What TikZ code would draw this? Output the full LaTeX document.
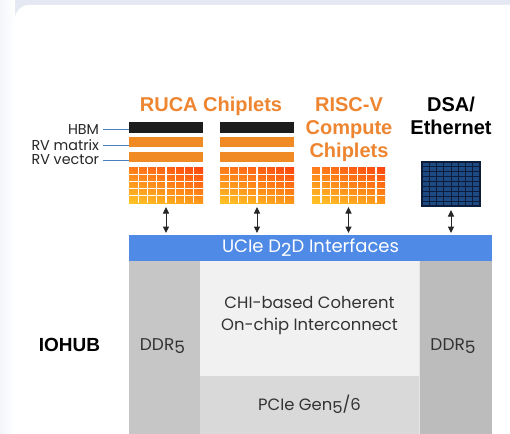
\documentclass[tikz,border=0pt]{standalone}
\usepackage{fontspec}
\setmainfont{Poppins}
\newfontfamily\headfont{Liberation Sans}
\usepackage{tikz}
\usetikzlibrary{positioning, calc, arrows.meta, shadings}

\definecolor{rucaorange}{HTML}{EE8530}
\definecolor{hbmblack}{HTML}{1C1C1C}
\definecolor{barorange}{HTML}{F08A24}
\definecolor{ucieblue}{HTML}{4F8AE6}
\definecolor{ddrgray}{HTML}{C6C6C6}
\definecolor{chigray}{HTML}{F1F1F1}
\definecolor{pciegray}{HTML}{D9D9D9}
\definecolor{dsanavy}{HTML}{0D1C38}
\definecolor{dsacell}{HTML}{1D4A82}
\definecolor{pagebg}{HTML}{E4E8F2}
\definecolor{lblline}{HTML}{4A7FC1}

\newcommand{\lowdig}[1]{\raisebox{-0.35ex}{#1}}

\begin{document}
\begin{tikzpicture}[x=1pt, y=-1pt,
  every node/.style={inner sep=0pt, outer sep=0pt},
  head/.style={font=\headfont\bfseries\fontsize{20}{23}\selectfont, align=center, anchor=north},
  rowlabel/.style={font=\fontsize{14.3}{16}\selectfont, text=black!85, anchor=east},
  chipbar/.style={anchor=north west, minimum width=74pt, minimum height=#1},
  chipgrid/.style={anchor=north west, minimum width=74pt, minimum height=36pt},
  block/.style={anchor=north west, text=black!80, font=\fontsize{14}{16}\selectfont},
  dblarrow/.style={{Triangle[width=6pt,length=6.5pt]}-{Triangle[width=6pt,length=6.5pt]}, black!85, line width=1pt, shorten <=4pt, shorten >=2pt}]
  \useasboundingbox (0,0) rectangle (510,433);
  \clip (0,0) rectangle (510,433);
  % page and card
  \fill[pagebg] (0,0) rectangle (510,433);
  \shade[left color=pagebg!40!white, right color=pagebg!110!black!2] (0,0) rectangle (15,433);
  \fill[white, rounded corners=14pt] (15,5) rectangle (540,460);

  % headings
  \node[head, text=rucaorange] (rucahead) at (211,97.5) {RUCA Chiplets};
  \node[head, text=rucaorange] (riscvhead) at (349,97.5) {RISC-V\\Compute\\Chiplets};
  \node[head, text=black] (dsahead) at (451,97.5) {DSA/\\Ethernet};

  % RUCA chiplets
  \node[chipbar=11pt, fill=hbmblack] (hbm1) at (129,122) {};
  \node[chipbar=10pt, fill=barorange] (rvm1) at (129,137) {};
  \node[chipbar=10pt, fill=barorange] (rvv1) at (129,152) {};
  \node[chipgrid] (ruca1grid) at (129,167) {};
  \node[chipbar=11pt, fill=hbmblack] (hbm2) at (220,122) {};
  \node[chipbar=10pt, fill=barorange] (rvm2) at (220,137) {};
  \node[chipbar=10pt, fill=barorange] (rvv2) at (220,152) {};
  \node[chipgrid] (ruca2grid) at (220,167) {};
  % RISC-V chiplet
  \node[chipgrid, minimum width=73pt] (riscvgrid) at (312,167) {};
  % DSA chiplet
  \node[anchor=north west, minimum width=58pt, minimum height=44pt, fill=dsacell] (dsagrid) at (422,162) {};

  % row labels
  \node[rowlabel] (hbmlbl) at (99,129.5) {HBM};
  \node[rowlabel] (rvmlbl) at (99,145) {RV matrix};
  \node[rowlabel] (rvvlbl) at (99,160) {RV vector};
  \draw[lblline, line width=0.6pt, shorten <=4pt] (hbmlbl.east) -- (hbmlbl.east -| hbm1.west);
  \draw[lblline, line width=0.6pt, shorten <=4pt] (rvmlbl.east) -- (rvmlbl.east -| rvm1.west);
  \draw[lblline, line width=0.6pt, shorten <=4pt] (rvvlbl.east) -- (rvvlbl.east -| rvv1.west);

  % orange compute grids
  \foreach \g in {ruca1grid, ruca2grid, riscvgrid} {
    \shade[upper left=orange!85!red!90!white, upper right=red!55!orange!95!white,
           lower left=orange!55!yellow!85!white, lower right=orange!90!yellow!90!white]
      (\g.north west) rectangle (\g.south east);
    \foreach \i in {1,...,7}
      \draw[white, line width=1.3pt] ($(\g.north west)!\i/8!(\g.north east)$) -- ($(\g.south west)!\i/8!(\g.south east)$);
    \foreach \j in {1,...,4}
      \draw[white, line width=1.3pt] ($(\g.north west)!\j/5!(\g.south west)$) -- ($(\g.north east)!\j/5!(\g.south east)$);
  }
  % DSA grid
  \foreach \i in {1,...,7}
    \draw[dsanavy, line width=1pt] ($(dsagrid.north west)!\i/8!(dsagrid.north east)$) -- ($(dsagrid.south west)!\i/8!(dsagrid.south east)$);
  \foreach \j in {1,...,8}
    \draw[dsanavy, line width=1pt] ($(dsagrid.north west)!\j/9!(dsagrid.south west)$) -- ($(dsagrid.north east)!\j/9!(dsagrid.south east)$);
  \draw[dsanavy, line width=1.6pt] (dsagrid.north west) rectangle (dsagrid.south east);

  % IOHUB die
  \node[anchor=north west, minimum width=363pt, minimum height=25.5pt, fill=ucieblue,
        text=white, font=\fontsize{18}{20}\selectfont] (ucie) at (129,235) {UCIe D\lowdig{2}D Interfaces};
  \node[block, minimum width=71pt, minimum height=173pt, fill=ddrgray] (ddrleft) at (129,260.5) {};
  \node[block, minimum width=219pt, minimum height=115pt, fill=chigray] (chi) at (200,260.5) {};
  \node[block, minimum width=219pt, minimum height=58pt, fill=pciegray] (pcie) at (200,375.5) {};
  \node[block, minimum width=73pt, minimum height=173pt, fill=ddrgray!95!black] (ddrright) at (419,260.5) {};
  \draw[black!10, line width=1pt] (ddrright.north west) -- (ddrright.south west);

  \node[text=black!80, font=\fontsize{16.4}{22}\selectfont, align=center, anchor=north]
    (chitext) at (309.5,296) {CHI-based Coherent\\On-chip Interconnect};
  \node[text=black!80, font=\fontsize{16.4}{18}\selectfont] (pcietext) at (pcie.center) {PCIe Gen\lowdig{5}/6};
  \node[text=black!80, font=\fontsize{17}{19}\selectfont] (ddrltext) at (162.5,346) {DDR\lowdig{5}};
  \node[text=black!80, font=\fontsize{17}{19}\selectfont] (ddrrtext) at (453,346) {DDR\lowdig{5}};
  \node[font=\headfont\bfseries\fontsize{19}{21}\selectfont] (iohub) at (69.5,345) {IOHUB};

  % die-to-die links
  \draw[dblarrow] (ruca1grid.south) -- (ruca1grid.south |- ucie.north);
  \draw[dblarrow] (ruca2grid.south) -- (ruca2grid.south |- ucie.north);
  \draw[dblarrow] (riscvgrid.south) -- (riscvgrid.south |- ucie.north);
  \draw[dblarrow] (dsagrid.south) -- (dsagrid.south |- ucie.north);
\end{tikzpicture}
\end{document}
